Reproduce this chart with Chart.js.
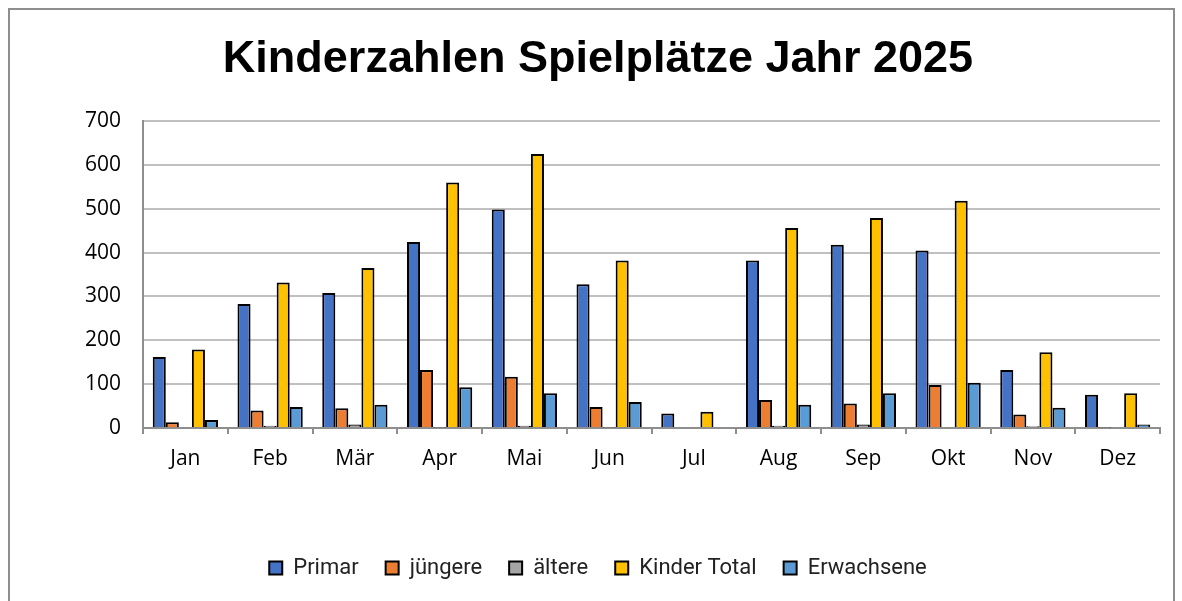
<!DOCTYPE html>
<html>
<head>
<meta charset="utf-8">
<script src="https://cdn.jsdelivr.net/npm/chart.js@4"></script>
<style>
html,body{margin:0;padding:0;background:#fff;}
#wrap{position:absolute;left:0;top:0;width:1182px;height:601px;}
#frame{position:absolute;left:8px;top:8px;width:1167px;height:620px;border:2px solid #8e8e8e;box-sizing:border-box;pointer-events:none;}
</style>
</head>
<body>
<div id="wrap"><canvas id="c"></canvas></div>
<div id="frame"></div>
<script>
const categories = ["Jan","Feb","Mär","Apr","Mai","Jun","Jul","Aug","Sep","Okt","Nov","Dez"];
const primar      = [162,283,308,424,498,328,33,382,418,405,132,76];
const juengere    = [13,40,45,132,117,48,0,64,56,98,31,1];
const aeltere     = [0,5,8,1,5,1,2,5,8,0,4,0];
const kinderTotal = [179,332,365,560,625,382,37,456,479,518,173,79];
const erwachsene  = [18,48,53,93,79,59,2,53,79,103,46,8];
const yTicks = [0,100,200,300,400,500,600,700];
const seriesNames = ["Primar","jüngere","ältere","Kinder Total","Erwachsene"];
const seriesColors = ["#4472C4","#ED7D31","#A5A5A5","#FFC000","#5B9BD5"];
const seriesData = [primar, juengere, aeltere, kinderTotal, erwachsene];

const FONT = "'Open Sans', 'Liberation Sans', sans-serif";

new Chart(document.getElementById('c'), {
  type: 'bar',
  data: {
    labels: categories,
    datasets: seriesNames.map((n,i)=>({
      label: n,
      data: seriesData[i],
      backgroundColor: seriesColors[i],
      borderColor: '#000',
      borderWidth: 2,
      categoryPercentage: 0.77,
      barPercentage: 1.0
    }))
  },
  options: {
    responsive: true,
    maintainAspectRatio: false,
    animation: false,
    layout: { padding: { left: 36, right: 22, top: 0, bottom: 12 } },
    plugins: {
      title: {
        display: true,
        text: 'Kinderzahlen Spielplätze Jahr 2025',
        color: '#000',
        font: { family: "'Liberation Sans', Arial, sans-serif", size: 45, weight: 'bold', lineHeight: 1.2 },
        padding: { top: 33, bottom: 34 }
      },
      legend: {
        position: 'bottom',
        labels: {
          color: '#222',
          font: { family: "'Roboto', 'Liberation Sans', sans-serif", size: 22 },
          boxWidth: 13,
          boxHeight: 13,
          padding: 27
        }
      },
      tooltip: { enabled: false }
    },
    scales: {
      x: {
        offset: true,
        grid: { display: true, drawOnChartArea: false, drawTicks: true, tickLength: 6, offset: true, color: '#8e8e8e', lineWidth: 2 },
        border: { display: true, color: '#8e8e8e', width: 2 },
        ticks: { color: '#000', font: { family: FONT, size: 21 }, padding: 12 },
        afterFit: s => { s.height = 102; }
      },
      y: {
        min: 0, max: 700,
        afterBuildTicks: s => { s.ticks = yTicks.map(v=>({value:v})); },
        grid: { color: '#c0c0c0', lineWidth: 2, drawTicks: false },
        border: { display: true, color: '#8e8e8e', width: 2 },
        ticks: { color: '#000', font: { family: FONT, size: 21 }, padding: 22 },
        afterFit: s => { s.width = 107; }
      }
    }
  }
});
</script>
</body>
</html>
